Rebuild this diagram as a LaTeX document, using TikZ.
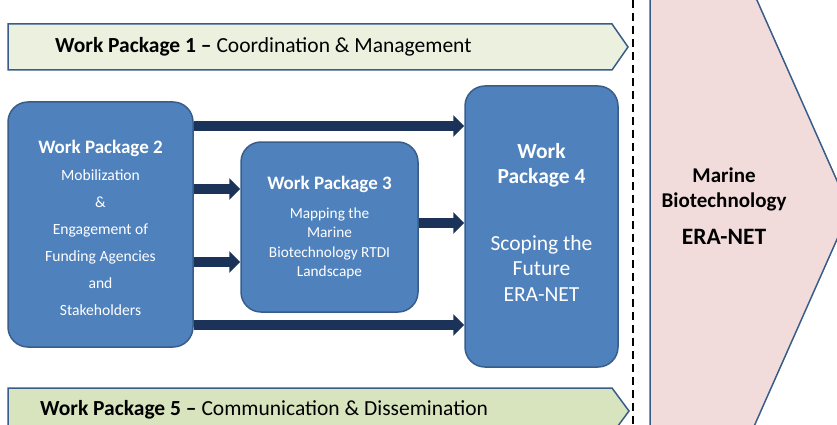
\documentclass[tikz,border=0pt]{standalone}
\usepackage{fontspec}
\setmainfont{Carlito}
\usetikzlibrary{arrows.meta}
\definecolor{wpblue}{HTML}{4F81BD}
\definecolor{wpedge}{HTML}{385D8A}
\definecolor{wpgreenA}{HTML}{EBF1DE}
\definecolor{wpgreenB}{HTML}{D7E4BD}
\definecolor{wppink}{HTML}{F2DCDB}
\definecolor{navy}{HTML}{1B3358}
\tikzset{
  bluebox/.style={draw=wpedge, line width=1.5pt, fill=wpblue, rounded corners=20pt, inner sep=0pt},
  whitetxt/.style={text=white, align=center, inner sep=0pt},
  bannertxt/.style={anchor=west, inner sep=0pt, font=\fontsize{21.5}{24}\selectfont},
  banner/.style={draw=wpedge, line width=1.5pt},
  conn/.style={draw=navy, line width=10pt, -{Triangle[length=11pt,width=21pt]}}
}
\begin{document}
\begin{tikzpicture}[x=1pt,y=-1pt]
\useasboundingbox (0,0) rectangle (837,425);
% pink ERA-NET chevron
\draw[fill=wppink, draw=wpedge, line width=1.5pt] (650,-20) -- (748,-20) -- (850,210) -- (748,440) -- (650,440) -- cycle;
\node[align=center, inner sep=0pt, font=\fontsize{21}{25}\selectfont\bfseries] (mbt) at (724,189) {Marine\\Biotechnology};
\node[inner sep=0pt, font=\fontsize{23.5}{26}\selectfont\bfseries] (eranet) at (724,237) {ERA-NET};
% dashed separator
\coordinate (dtop) at (633,0);
\coordinate (dbot) at (633,425);
\draw[line width=2pt, dash pattern=on 8pt off 5pt] (dtop) -- (dbot);
% WP1 and WP5 banners
\draw[banner, fill=wpgreenA] (8,24) -- (612,24) -- (628,47) -- (612,70) -- (8,70) -- cycle;
\node[bannertxt] (wp1) at (55,47) {\textbf{Work Package 1 –} Coordination \& Management};
\draw[banner, fill=wpgreenB] (8,388) -- (612,388) -- (629,411) -- (612,434) -- (8,434) -- cycle;
\node[bannertxt] (wp5) at (40,410) {\textbf{Work Package 5 –} Communication \& Dissemination};
% blue boxes
\node[bluebox, minimum width=185pt, minimum height=245pt] (wp2) at (100.5,224.5) {};
\node[whitetxt, font=\fontsize{15.6}{27}\selectfont] (wp2t) at (100.5,228) {{\fontsize{19}{27}\selectfont\bfseries Work Package 2}\\Mobilization\\\&\\Engagement of\\Funding Agencies\\and\\Stakeholders};
\node[bluebox, minimum width=177pt, minimum height=170pt] (wp3) at (329.5,227) {};
\node[whitetxt, font=\fontsize{15.3}{19.5}\selectfont] (wp3t) at (329.5,228) {{\fontsize{19}{19.5}\selectfont\bfseries Work Package 3}\\[9pt]Mapping the\\Marine\\Biotechnology RTDI\\Landscape};
\node[bluebox, minimum width=153pt, minimum height=281pt] (wp4) at (541.5,226.5) {};
\node[whitetxt, font=\fontsize{21.5}{25.5}\selectfont] (wp4t) at (541.5,222) {{\bfseries Work}\\{\bfseries Package 4}\\[41pt]Scoping the\\Future\\ERA-NET};
% connectors
\draw[conn] (wp2.east |- 0,126) -- (wp4.west |- 0,126);
\draw[conn] (wp2.east |- 0,189) -- (wp3.west |- 0,189);
\draw[conn] (wp2.east |- 0,262) -- (wp3.west |- 0,262);
\draw[conn] (wp3.east |- 0,223) -- (wp4.west |- 0,223);
\draw[conn] (wp2.east |- 0,325) -- (wp4.west |- 0,325);
\end{tikzpicture}
\end{document}
